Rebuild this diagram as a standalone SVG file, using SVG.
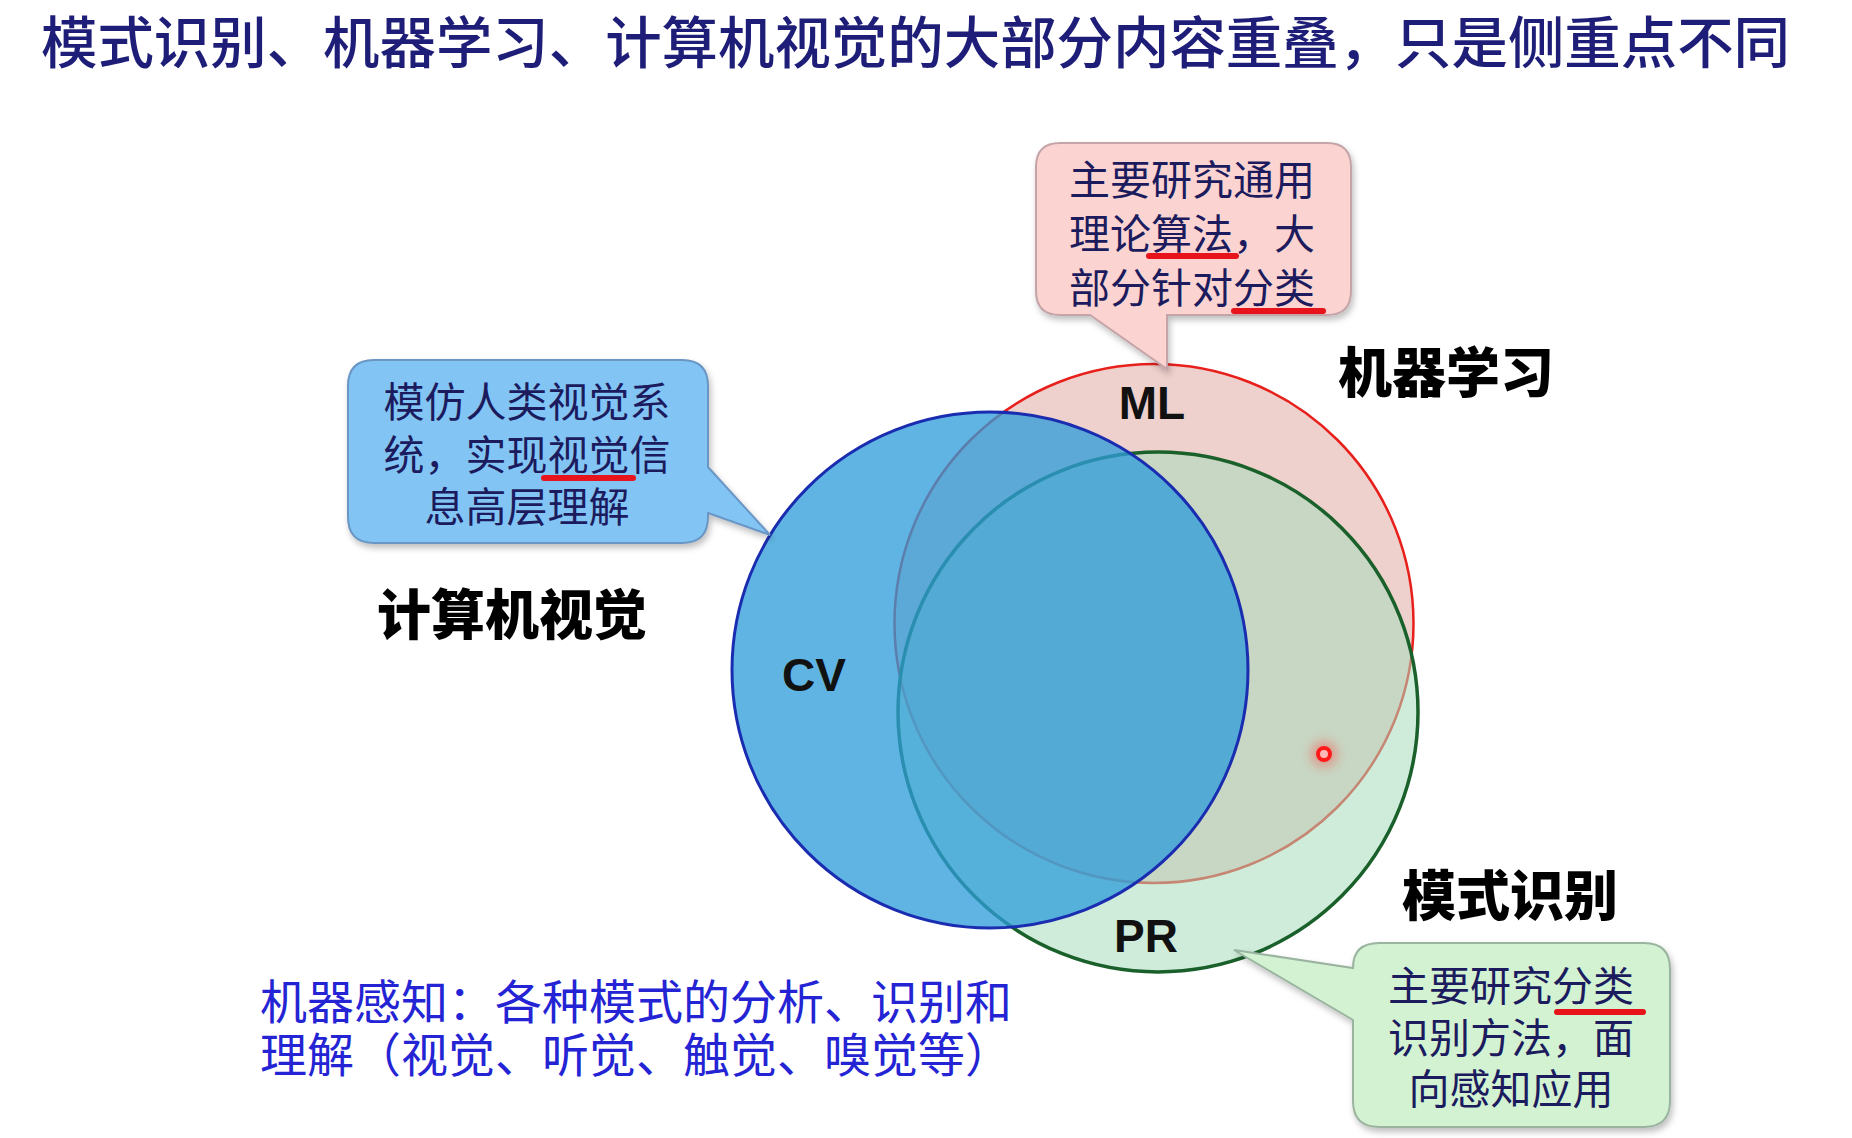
<svg xmlns="http://www.w3.org/2000/svg" width="1852" height="1138" viewBox="0 0 1852 1138">
  <defs>
    <filter id="shadow" x="-10%" y="-10%" width="120%" height="130%">
      <feDropShadow dx="2" dy="4" stdDeviation="3" flood-color="#000" flood-opacity="0.25"/>
    </filter>
    <filter id="glow" x="-100%" y="-100%" width="300%" height="300%">
      <feGaussianBlur stdDeviation="5"/>
    </filter>
  </defs>
  <style>
    .cjk { font-family: "Noto Sans CJK SC", "Noto Sans", sans-serif; }
    .title { font-size: 56px; font-weight: 500; fill: #1e1e78; }
    .note { font-size: 41px; fill: #1b1b5e; text-anchor: middle; }
    .big { font-size: 54px; font-weight: 900; fill: #000; }
    .abbr { font-family: "Liberation Sans", Arial, sans-serif; font-size: 46px; font-weight: bold; fill: #111; text-anchor: middle; }
    .bottom { font-size: 47px; fill: #2424d4; }
    .ul { stroke: #e8141c; stroke-width: 6; stroke-linecap: round; fill: none; }
    .callout { stroke-width: 2; filter: url(#shadow); }
  </style>
  <rect width="1852" height="1138" fill="#ffffff"/>

  <text class="cjk title" x="41" y="63" textLength="1749" lengthAdjust="spacingAndGlyphs">模式识别、机器学习、计算机视觉的大部分内容重叠，只是侧重点不同</text>

  <g id="venn">
    <g id="ml">
      <circle cx="1154" cy="623.5" r="259.5" fill="#eed0cc" stroke="#e8201c" stroke-width="2.5"/>
    </g>
    <g id="pr">
      <circle cx="1158" cy="712" r="260" fill="#a8dcbc" fill-opacity="0.55" stroke="#1a602a" stroke-width="3.5"/>
    </g>
    <g id="cv">
      <circle cx="990" cy="670" r="258" fill="#2e9cda" fill-opacity="0.76" stroke="#1a2cb0" stroke-width="3"/>
    </g>
    <text class="abbr" x="1152" y="419">ML</text>
    <text class="abbr" x="814" y="691">CV</text>
    <text class="abbr" x="1146" y="952">PR</text>
  </g>

  <g id="pointer">
    <circle cx="1324" cy="754" r="14" fill="#ff4040" fill-opacity="0.35" filter="url(#glow)"/>
    <circle cx="1324" cy="754" r="6" fill="#ffb8b8" stroke="#ff1a1a" stroke-width="4"/>
  </g>

  <g id="label-ml"><text class="cjk big" x="1338" y="393" font-size="53">机器学习</text></g>
  <g id="label-cv"><text class="cjk big" x="377" y="635">计算机视觉</text></g>
  <g id="label-pr"><text class="cjk big" x="1402" y="916">模式识别</text></g>

  <g id="note-ml">
    <path class="callout" fill="#fbd3d0" stroke="#c4a4a8" d="M 1060 143 H 1327 Q 1351 143 1351 167 V 291 Q 1351 315 1327 315 H 1167 V 369 L 1090 315 H 1060 Q 1036 315 1036 291 V 167 Q 1036 143 1060 143 Z"/>
    <text class="cjk note" x="1192" y="195">主要研究通用</text>
    <text class="cjk note" x="1192" y="249">理论算法，大</text>
    <text class="cjk note" x="1192" y="303">部分针对分类</text>
    <line class="ul" x1="1149" y1="256" x2="1236" y2="256"/>
    <line class="ul" x1="1234" y1="311" x2="1323" y2="311"/>
  </g>

  <g id="note-cv">
    <path class="callout" fill="#82c5f5" stroke="#6a96c4" d="M 374 360 H 682 Q 708 360 708 386 V 467 L 770 535 L 708 513 V 517 Q 708 543 682 543 H 374 Q 348 543 348 517 V 386 Q 348 360 374 360 Z"/>
    <text class="cjk note" x="527" y="417" font-size="42">模仿人类视觉系</text>
    <text class="cjk note" x="527" y="470" font-size="42">统，实现视觉信</text>
    <text class="cjk note" x="527" y="522" font-size="42">息高层理解</text>
    <line class="ul" x1="544" y1="478" x2="633" y2="478"/>
  </g>

  <g id="note-pr">
    <path class="callout" fill="#d2f2d2" stroke="#9ab4a0" d="M 1379 943 H 1644 Q 1670 943 1670 969 V 1101 Q 1670 1127 1644 1127 H 1379 Q 1353 1127 1353 1101 V 1020 L 1234 950 L 1353 968 Q 1353 943 1379 943 Z"/>
    <text class="cjk note" x="1511" y="1001" font-size="42">主要研究分类</text>
    <text class="cjk note" x="1511" y="1053" font-size="42">识别方法，面</text>
    <text class="cjk note" x="1511" y="1104" font-size="42">向感知应用</text>
    <line class="ul" x1="1557" y1="1012" x2="1643" y2="1012"/>
  </g>

  <g id="note-bottom">
    <text class="cjk bottom" x="260" y="1019">机器感知：各种模式的分析、识别和</text>
    <text class="cjk bottom" x="260" y="1072">理解（视觉、听觉、触觉、嗅觉等）</text>
  </g>
</svg>
